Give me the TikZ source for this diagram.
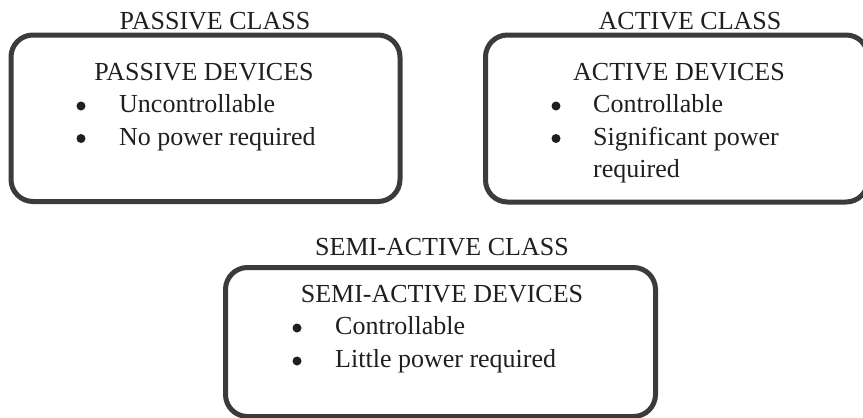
\documentclass[tikz,border=0pt]{standalone}
\usepackage{fontspec}
\setmainfont{Liberation Serif}
\begin{document}
\begin{tikzpicture}[x=1pt,y=-1pt,
  box/.style={draw=black!77, line width=5pt, rounded corners=22pt},
  txt/.style={anchor=base, inner sep=0pt, font=\fontsize{26}{30}\selectfont, text=black!88},
  itm/.style={anchor=base west, inner sep=0pt, font=\fontsize{26}{30}\selectfont, text=black!88},
  bul/.style={circle, fill=black!88, inner sep=0pt, minimum size=9pt}]
\useasboundingbox (0,0) rectangle (863,418);
\clip (0,0) rectangle (863,418);
% passive
\node[txt] (pc) at (215,29) {PASSIVE CLASS};
\draw[box] (11,35) rectangle (400,201.5);
\node[txt] (pd) at (204,80) {PASSIVE DEVICES};
\node[bul] (pb1) at (81,106) {};
\node[itm] (pi1) at (119,112) {Uncontrollable};
\node[bul] (pb2) at (81,138.5) {};
\node[itm] (pi2) at (119,145) {No power required};
% active
\node[txt] (ac) at (690,29) {ACTIVE CLASS};
\draw[box] (485.5,35) rectangle (868,202);
\node[txt] (ad) at (679,80) {ACTIVE DEVICES};
\node[bul] (ab1) at (556,106) {};
\node[itm] (ai1) at (593,112) {Controllable};
\node[bul] (ab2) at (556,138.5) {};
\node[itm] (ai2) at (593,145) {Significant power};
\node[itm] (ai3) at (593,177) {required};
% semi-active
\node[txt] (sc) at (442,255) {SEMI-ACTIVE CLASS};
\draw[box] (225.5,267.5) rectangle (655.5,416.5);
\node[txt] (sd) at (442,302) {SEMI-ACTIVE DEVICES};
\node[bul] (sb1) at (297,328) {};
\node[itm] (si1) at (335,334) {Controllable};
\node[bul] (sb2) at (297,361) {};
\node[itm] (si2) at (335,367) {Little power required};
\end{tikzpicture}
\end{document}
